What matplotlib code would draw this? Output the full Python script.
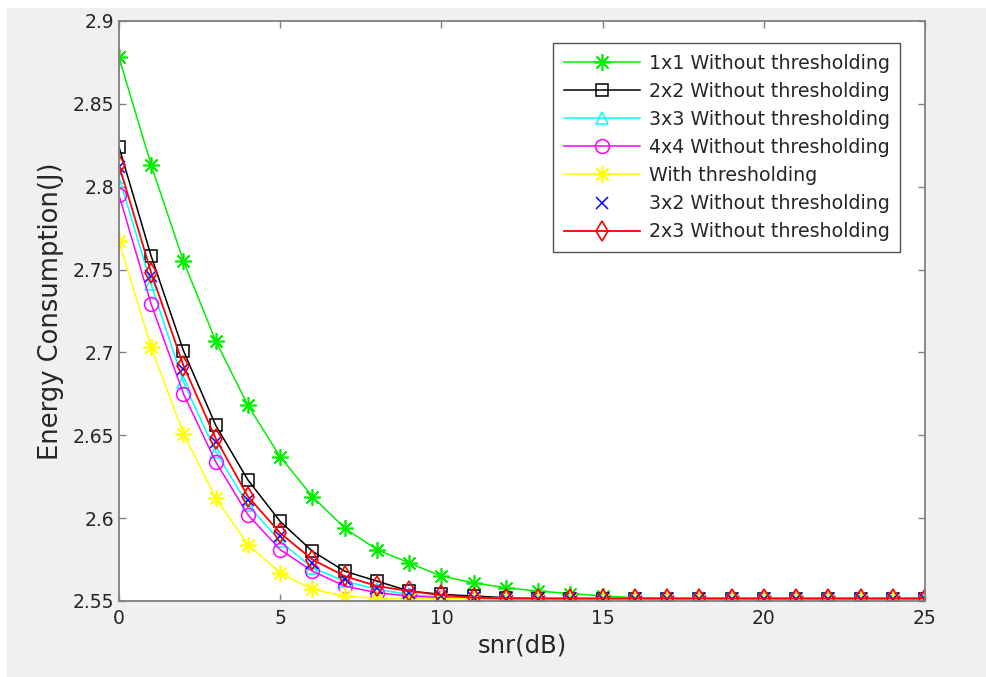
import numpy as np
import matplotlib
matplotlib.use('Agg')
import matplotlib.pyplot as plt
import matplotlib.patches as mpatches

# snr axis
snr = list(range(26))

# energy consumption
e_1x1 = [2.878, 2.813, 2.755, 2.707, 2.668, 2.637, 2.613, 2.594, 2.581, 2.573,
         2.565, 2.561, 2.558, 2.556, 2.5545, 2.553, 2.552, 2.5515, 2.5515, 2.5515,
         2.5515, 2.5515, 2.5515, 2.5515, 2.5515, 2.5515]
e_2x2 = [2.824, 2.758, 2.701, 2.656, 2.623, 2.598, 2.580, 2.568, 2.562, 2.556,
         2.554, 2.553, 2.552, 2.5515, 2.5515, 2.5515, 2.5515, 2.5515, 2.5515, 2.5515,
         2.5515, 2.5515, 2.5515, 2.5515, 2.5515, 2.5515]
e_3x3 = [2.806, 2.741, 2.682, 2.640, 2.608, 2.586, 2.570, 2.562, 2.557, 2.554,
         2.552, 2.5515, 2.5515, 2.5515, 2.5515, 2.5515, 2.5515, 2.5515, 2.5515, 2.5515,
         2.5515, 2.5515, 2.5515, 2.5515, 2.5515, 2.5515]
e_4x4 = [2.795, 2.729, 2.675, 2.634, 2.602, 2.581, 2.568, 2.559, 2.555, 2.553,
         2.552, 2.5515, 2.5515, 2.5515, 2.5515, 2.5515, 2.5515, 2.5515, 2.5515, 2.5515,
         2.5515, 2.5515, 2.5515, 2.5515, 2.5515, 2.5515]
e_thr = [2.767, 2.703, 2.651, 2.612, 2.584, 2.567, 2.557, 2.553, 2.5515, 2.5515,
         2.5515, 2.5515, 2.5515, 2.5515, 2.5515, 2.5515, 2.5515, 2.5515, 2.5515, 2.5515,
         2.5515, 2.5515, 2.5515, 2.5515, 2.5515, 2.5515]
e_3x2 = [2.812, 2.746, 2.690, 2.646, 2.611, 2.589, 2.573, 2.563, 2.558, 2.555,
         2.553, 2.552, 2.5515, 2.5515, 2.5515, 2.5515, 2.5515, 2.5515, 2.5515, 2.5515,
         2.5515, 2.5515, 2.5515, 2.5515, 2.5515, 2.5515]
e_2x3 = [2.813, 2.748, 2.692, 2.648, 2.613, 2.591, 2.575, 2.565, 2.559, 2.556,
         2.5535, 2.552, 2.5515, 2.5515, 2.5515, 2.5515, 2.5515, 2.5515, 2.5515, 2.5515,
         2.5515, 2.5515, 2.5515, 2.5515, 2.5515, 2.5515]

labels = ['1x1 Without thresholding', '2x2 Without thresholding',
          '3x3 Without thresholding', '4x4 Without thresholding',
          'With thresholding', '3x2 Without thresholding',
          '2x3 Without thresholding']

fig = plt.figure(figsize=(9.86, 6.77), dpi=100, facecolor='#f0f0f0')
# thin white strips on top and left like the screenshot
fig.patches.append(mpatches.Rectangle((0, 1 - 8 / 677), 1, 8 / 677,
                                      transform=fig.transFigure,
                                      facecolor='white', edgecolor='none', zorder=-10))
fig.patches.append(mpatches.Rectangle((0, 0), 7 / 986, 1,
                                      transform=fig.transFigure,
                                      facecolor='white', edgecolor='none', zorder=-10))
ax = fig.add_axes([119 / 986, 1 - 601 / 677, 806 / 986, 580 / 677])
ax.set_facecolor('white')

star = (8, 2, 0)  # matlab style asterisk
lw = 1.1
ax.plot(snr, e_1x1, '-', marker=star, color='#00ee00', lw=lw, ms=12, mew=1.2, label=labels[0])
ax.plot(snr, e_2x2, '-s', color='black', lw=lw, ms=8, mfc='none', mew=1.1, label=labels[1])
ax.plot(snr, e_3x3, '-^', color='cyan', lw=lw, ms=8, mfc='none', mew=1.1, label=labels[2])
ax.plot(snr, e_4x4, '-o', color='magenta', lw=lw, ms=10, mfc='none', mew=1.1, label=labels[3])
ax.plot(snr, e_thr, '-', marker=star, color='yellow', lw=lw, ms=12, mew=1.2, label=labels[4])
ax.plot(snr, e_3x2, 'x', color='blue', ms=8, mew=1.1, label=labels[5])
ax.plot(snr, e_2x3, '-d', color='red', lw=1.3, ms=10, mfc='none', mew=1.2, label=labels[6])

ax.set_xlim(0, 25)
ax.set_ylim(2.55, 2.9)
ax.set_xticks(np.arange(0, 26, 5))
ax.set_yticks([2.55, 2.6, 2.65, 2.7, 2.75, 2.8, 2.85, 2.9])
ax.set_yticklabels(['2.55', '2.6', '2.65', '2.7', '2.75', '2.8', '2.85', '2.9'])

for s in ax.spines.values():
    s.set_color('#808080')
    s.set_linewidth(1.3)
ax.tick_params(direction='in', top=True, right=True, length=5, width=1,
               color='#808080', labelsize=13.5, labelcolor='#262626')
ax.tick_params(axis='x', pad=6)

ax.set_xlabel('snr(dB)', fontsize=17.5, color='#262626', labelpad=4)
ax.set_ylabel('Energy Consumption(J)', fontsize=18.5, color='#262626', labelpad=6)

leg = ax.legend(loc='upper right', bbox_to_anchor=(0.969, 0.962), fontsize=13.7,
                frameon=True, fancybox=False, handlelength=4.0, handletextpad=0.45,
                labelspacing=0.48, borderpad=0.55, borderaxespad=0)
leg.get_frame().set_edgecolor('#262626')
leg.get_frame().set_linewidth(1.0)
for t in leg.get_texts():
    t.set_color('#262626')

fig.savefig('out.png', dpi=100, facecolor=fig.get_facecolor())
